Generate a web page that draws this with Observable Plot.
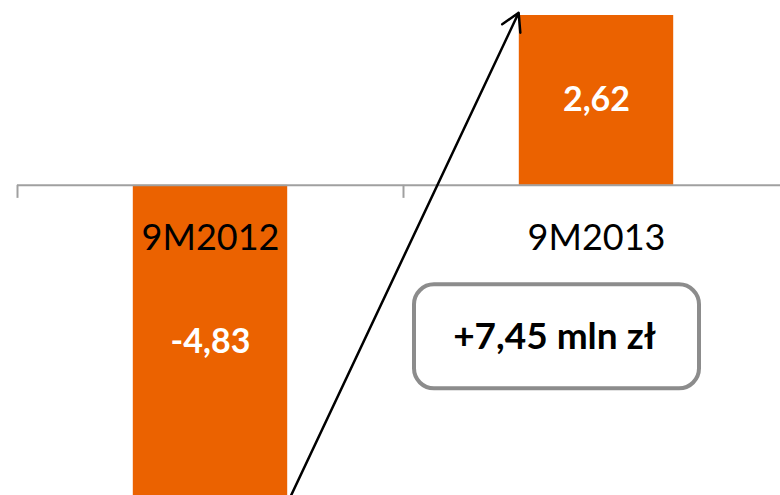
<!DOCTYPE html>
<html>
<head>
<meta charset="utf-8">
<script src="https://cdn.jsdelivr.net/npm/d3@7"></script>
<script src="https://cdn.jsdelivr.net/npm/@observablehq/plot@0.6"></script>
<style>
  html, body { margin: 0; padding: 0; background: #fff; overflow: hidden; }
</style>
</head>
<body>
<div id="chart"></div>
<script>
// ---- data ----
const categories = ["9M2012", "9M2013"];
const values = [-4.83, 2.62];
const unitLabel = "mln zł";

// ---- formatting (Polish: decimal comma, hyphen minus) ----
const pl = d3.formatLocale({decimal: ",", thousands: " ", grouping: [3], currency: ["", " zł"], minus: "-"});
const fmt = pl.format(".2f");
const fmtSigned = pl.format("+.2f");

// ---- derived tables ----
const bars = categories.map((c, i) => ({i, category: c, value: values[i]}));
const boundaries = d3.range(categories.length + 1).map(k => k - 0.5);
const change = values[values.length - 1] - values[0];
const annotation = [{i: categories.length - 1, text: `${fmtSigned(change)} ${unitLabel}`}];

// ---- styling constants ----
const HALF = 0.2;       // half bar width (in band units)
const GAP = 0.005;      // gap between arrow and bar edge
const ORANGE = "#EB6200";
const AXIS_GRAY = "#A0A0A0";
const BOX_GRAY = "#8C8C8C";
const FONT = "Lato, 'Open Sans', sans-serif";

const arrowData = [{
  x1: bars[0].i + HALF + GAP, y1: bars[0].value,
  x2: bars[1].i - HALF - GAP, y2: bars[1].value
}];

// rounded rectangle symbol for the annotation box
const BOX_W = 285, BOX_H = 104, BOX_R = 20;
const roundedBox = {
  draw(ctx) {
    const w = BOX_W / 2, h = BOX_H / 2, r = BOX_R;
    ctx.moveTo(-w + r, -h);
    ctx.lineTo(w - r, -h);
    ctx.arcTo(w, -h, w, -h + r, r);
    ctx.lineTo(w, h - r);
    ctx.arcTo(w, h, w - r, h, r);
    ctx.lineTo(-w + r, h);
    ctx.arcTo(-w, h, -w, h - r, r);
    ctx.lineTo(-w, -h + r);
    ctx.arcTo(-w, -h, -w + r, -h, r);
    ctx.closePath();
  }
};

const chart = Plot.plot({
  width: 780,
  height: 495,
  margin: 0,
  style: {fontFamily: FONT, background: "#fff"},
  x: {type: "linear", domain: [boundaries[0], boundaries[boundaries.length - 1]], range: [17, 789], axis: null},
  y: {domain: [values[0], values[1]], range: [498, 15], axis: null},
  marks: [
    // bars
    Plot.rectY(bars, {x1: d => d.i - HALF, x2: d => d.i + HALF, y1: 0, y2: "value", fill: ORANGE}),
    // baseline axis
    Plot.ruleY([0], {x1: boundaries[0], x2: boundaries[boundaries.length - 1], stroke: AXIS_GRAY, strokeWidth: 2}),
    // category boundary ticks
    Plot.ruleX(boundaries, {x: d => d, y1: 0, y2: 0, insetBottom: -13, stroke: AXIS_GRAY, strokeWidth: 2}),
    // category labels
    Plot.text(bars, {x: "i", y: 0, dy: 53, text: "category", fontSize: 36, fill: "#000"}),
    // value labels
    Plot.text(bars, {x: "i", y: d => d.value / 2, text: d => fmt(d.value), fontSize: 34, fontWeight: "bold", fill: "#fff"}),
    // arrow
    Plot.arrow(arrowData, {x1: "x1", y1: "y1", x2: "x2", y2: "y2", stroke: "#000", strokeWidth: 2.5, headLength: 12, insetEnd: -3}),
    // annotation box
    Plot.dot(annotation, {x: "i", y: 0, dx: -40, dy: 151, symbol: roundedBox, fill: "#fff", stroke: BOX_GRAY, strokeWidth: 4}),
    Plot.text(annotation, {x: "i", y: 0, dx: -42, dy: 152, text: "text", fontSize: 37, fontWeight: "bold", fill: "#000"})
  ]
});
document.getElementById("chart").appendChild(chart);
</script>
</body>
</html>
